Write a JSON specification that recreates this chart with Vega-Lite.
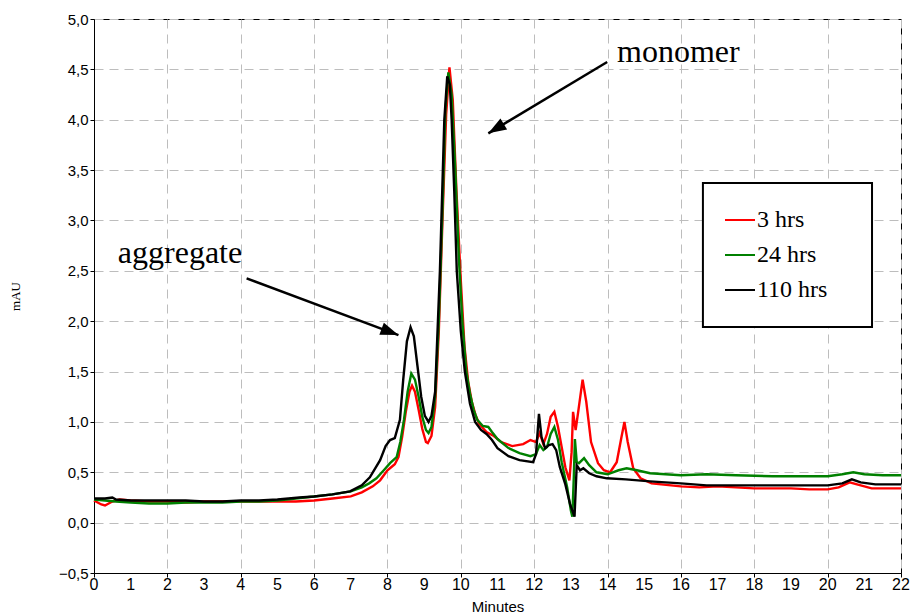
{
  "$schema": "https://vega.github.io/schema/vega-lite/v6.json",
  "width": 807,
  "height": 554,
  "autosize": {"type": "none"},
  "padding": {"left": 94, "top": 19, "right": 10, "bottom": 43},
  "background": "white",
  "config": {
    "view": {"stroke": "black", "strokeWidth": 1},
    "axis": {
      "grid": true,
      "gridColor": "#bdbdbd",
      "gridDash": [9, 6],
      "gridWidth": 1,
      "domainColor": "black",
      "tickColor": "black",
      "tickSize": 4,
      "labelColor": "black",
      "labelFont": "Liberation Sans",
      "labelFontSize": 15,
      "titleColor": "black",
      "titleFontWeight": "normal"
    }
  },
  "datasets": {
    "traces": [
      {"t": 0.0, "v": 0.22, "s": "3 hrs"}, {"t": 0.1, "v": 0.20, "s": "3 hrs"}, {"t": 0.2, "v": 0.18, "s": "3 hrs"}, {"t": 0.3, "v": 0.17, "s": "3 hrs"}, {"t": 0.4, "v": 0.19, "s": "3 hrs"}, {"t": 0.5, "v": 0.21, "s": "3 hrs"}, {"t": 0.7, "v": 0.23, "s": "3 hrs"}, {"t": 1.0, "v": 0.22, "s": "3 hrs"}, {"t": 1.5, "v": 0.21, "s": "3 hrs"}, {"t": 2.0, "v": 0.21, "s": "3 hrs"}, {"t": 2.5, "v": 0.20, "s": "3 hrs"}, {"t": 3.0, "v": 0.21, "s": "3 hrs"}, {"t": 3.5, "v": 0.21, "s": "3 hrs"}, {"t": 4.0, "v": 0.21, "s": "3 hrs"}, {"t": 4.5, "v": 0.21, "s": "3 hrs"}, {"t": 5.0, "v": 0.21, "s": "3 hrs"}, {"t": 5.5, "v": 0.21, "s": "3 hrs"}, {"t": 6.0, "v": 0.22, "s": "3 hrs"}, {"t": 6.5, "v": 0.24, "s": "3 hrs"}, {"t": 7.0, "v": 0.26, "s": "3 hrs"}, {"t": 7.3, "v": 0.30, "s": "3 hrs"}, {"t": 7.6, "v": 0.36, "s": "3 hrs"}, {"t": 7.8, "v": 0.42, "s": "3 hrs"}, {"t": 8.0, "v": 0.52, "s": "3 hrs"}, {"t": 8.1, "v": 0.55, "s": "3 hrs"}, {"t": 8.2, "v": 0.58, "s": "3 hrs"}, {"t": 8.3, "v": 0.65, "s": "3 hrs"}, {"t": 8.4, "v": 0.85, "s": "3 hrs"}, {"t": 8.5, "v": 1.10, "s": "3 hrs"}, {"t": 8.6, "v": 1.30, "s": "3 hrs"}, {"t": 8.67, "v": 1.36, "s": "3 hrs"}, {"t": 8.75, "v": 1.30, "s": "3 hrs"}, {"t": 8.85, "v": 1.12, "s": "3 hrs"}, {"t": 8.95, "v": 0.93, "s": "3 hrs"}, {"t": 9.05, "v": 0.80, "s": "3 hrs"}, {"t": 9.1, "v": 0.79, "s": "3 hrs"}, {"t": 9.2, "v": 0.86, "s": "3 hrs"}, {"t": 9.3, "v": 1.15, "s": "3 hrs"}, {"t": 9.4, "v": 1.90, "s": "3 hrs"}, {"t": 9.5, "v": 3.00, "s": "3 hrs"}, {"t": 9.6, "v": 4.05, "s": "3 hrs"}, {"t": 9.69, "v": 4.52, "s": "3 hrs"}, {"t": 9.78, "v": 4.20, "s": "3 hrs"}, {"t": 9.88, "v": 3.30, "s": "3 hrs"}, {"t": 10.0, "v": 2.40, "s": "3 hrs"}, {"t": 10.1, "v": 1.75, "s": "3 hrs"}, {"t": 10.2, "v": 1.40, "s": "3 hrs"}, {"t": 10.3, "v": 1.20, "s": "3 hrs"}, {"t": 10.4, "v": 1.07, "s": "3 hrs"}, {"t": 10.5, "v": 0.98, "s": "3 hrs"}, {"t": 10.7, "v": 0.90, "s": "3 hrs"}, {"t": 10.9, "v": 0.86, "s": "3 hrs"}, {"t": 11.1, "v": 0.80, "s": "3 hrs"}, {"t": 11.4, "v": 0.76, "s": "3 hrs"}, {"t": 11.7, "v": 0.78, "s": "3 hrs"}, {"t": 11.9, "v": 0.82, "s": "3 hrs"}, {"t": 12.05, "v": 0.80, "s": "3 hrs"}, {"t": 12.15, "v": 0.89, "s": "3 hrs"}, {"t": 12.25, "v": 0.78, "s": "3 hrs"}, {"t": 12.35, "v": 0.88, "s": "3 hrs"}, {"t": 12.45, "v": 1.05, "s": "3 hrs"}, {"t": 12.55, "v": 1.10, "s": "3 hrs"}, {"t": 12.65, "v": 0.95, "s": "3 hrs"}, {"t": 12.75, "v": 0.75, "s": "3 hrs"}, {"t": 12.85, "v": 0.55, "s": "3 hrs"}, {"t": 12.96, "v": 0.42, "s": "3 hrs"}, {"t": 13.02, "v": 0.70, "s": "3 hrs"}, {"t": 13.06, "v": 1.10, "s": "3 hrs"}, {"t": 13.13, "v": 0.92, "s": "3 hrs"}, {"t": 13.2, "v": 1.10, "s": "3 hrs"}, {"t": 13.32, "v": 1.42, "s": "3 hrs"}, {"t": 13.42, "v": 1.20, "s": "3 hrs"}, {"t": 13.55, "v": 0.80, "s": "3 hrs"}, {"t": 13.74, "v": 0.59, "s": "3 hrs"}, {"t": 13.9, "v": 0.52, "s": "3 hrs"}, {"t": 14.07, "v": 0.50, "s": "3 hrs"}, {"t": 14.25, "v": 0.60, "s": "3 hrs"}, {"t": 14.38, "v": 0.85, "s": "3 hrs"}, {"t": 14.46, "v": 1.00, "s": "3 hrs"}, {"t": 14.55, "v": 0.80, "s": "3 hrs"}, {"t": 14.7, "v": 0.54, "s": "3 hrs"}, {"t": 14.9, "v": 0.44, "s": "3 hrs"}, {"t": 15.2, "v": 0.39, "s": "3 hrs"}, {"t": 16.0, "v": 0.36, "s": "3 hrs"}, {"t": 16.5, "v": 0.35, "s": "3 hrs"}, {"t": 17.0, "v": 0.36, "s": "3 hrs"}, {"t": 17.5, "v": 0.35, "s": "3 hrs"}, {"t": 18.0, "v": 0.34, "s": "3 hrs"}, {"t": 18.5, "v": 0.34, "s": "3 hrs"}, {"t": 19.0, "v": 0.34, "s": "3 hrs"}, {"t": 19.5, "v": 0.33, "s": "3 hrs"}, {"t": 20.0, "v": 0.33, "s": "3 hrs"}, {"t": 20.3, "v": 0.35, "s": "3 hrs"}, {"t": 20.6, "v": 0.40, "s": "3 hrs"}, {"t": 20.8, "v": 0.38, "s": "3 hrs"}, {"t": 21.2, "v": 0.34, "s": "3 hrs"}, {"t": 21.6, "v": 0.34, "s": "3 hrs"}, {"t": 22.0, "v": 0.34, "s": "3 hrs"},

      {"t": 0.0, "v": 0.23, "s": "24 hrs"}, {"t": 0.3, "v": 0.22, "s": "24 hrs"}, {"t": 0.6, "v": 0.21, "s": "24 hrs"}, {"t": 1.0, "v": 0.20, "s": "24 hrs"}, {"t": 1.5, "v": 0.19, "s": "24 hrs"}, {"t": 2.0, "v": 0.19, "s": "24 hrs"}, {"t": 2.5, "v": 0.20, "s": "24 hrs"}, {"t": 3.0, "v": 0.20, "s": "24 hrs"}, {"t": 3.5, "v": 0.20, "s": "24 hrs"}, {"t": 4.0, "v": 0.21, "s": "24 hrs"}, {"t": 4.5, "v": 0.21, "s": "24 hrs"}, {"t": 5.0, "v": 0.22, "s": "24 hrs"}, {"t": 5.5, "v": 0.24, "s": "24 hrs"}, {"t": 6.0, "v": 0.26, "s": "24 hrs"}, {"t": 6.5, "v": 0.28, "s": "24 hrs"}, {"t": 7.0, "v": 0.31, "s": "24 hrs"}, {"t": 7.3, "v": 0.35, "s": "24 hrs"}, {"t": 7.5, "v": 0.39, "s": "24 hrs"}, {"t": 7.7, "v": 0.44, "s": "24 hrs"}, {"t": 7.9, "v": 0.52, "s": "24 hrs"}, {"t": 8.07, "v": 0.59, "s": "24 hrs"}, {"t": 8.25, "v": 0.65, "s": "24 hrs"}, {"t": 8.35, "v": 0.80, "s": "24 hrs"}, {"t": 8.45, "v": 1.02, "s": "24 hrs"}, {"t": 8.55, "v": 1.30, "s": "24 hrs"}, {"t": 8.65, "v": 1.48, "s": "24 hrs"}, {"t": 8.75, "v": 1.42, "s": "24 hrs"}, {"t": 8.85, "v": 1.25, "s": "24 hrs"}, {"t": 8.95, "v": 1.05, "s": "24 hrs"}, {"t": 9.05, "v": 0.92, "s": "24 hrs"}, {"t": 9.12, "v": 0.89, "s": "24 hrs"}, {"t": 9.2, "v": 0.95, "s": "24 hrs"}, {"t": 9.3, "v": 1.25, "s": "24 hrs"}, {"t": 9.4, "v": 2.00, "s": "24 hrs"}, {"t": 9.5, "v": 3.10, "s": "24 hrs"}, {"t": 9.58, "v": 4.10, "s": "24 hrs"}, {"t": 9.66, "v": 4.47, "s": "24 hrs"}, {"t": 9.75, "v": 4.25, "s": "24 hrs"}, {"t": 9.85, "v": 3.50, "s": "24 hrs"}, {"t": 9.95, "v": 2.60, "s": "24 hrs"}, {"t": 10.05, "v": 1.95, "s": "24 hrs"}, {"t": 10.15, "v": 1.50, "s": "24 hrs"}, {"t": 10.25, "v": 1.28, "s": "24 hrs"}, {"t": 10.35, "v": 1.12, "s": "24 hrs"}, {"t": 10.45, "v": 1.02, "s": "24 hrs"}, {"t": 10.6, "v": 0.96, "s": "24 hrs"}, {"t": 10.75, "v": 0.95, "s": "24 hrs"}, {"t": 10.85, "v": 0.90, "s": "24 hrs"}, {"t": 11.0, "v": 0.83, "s": "24 hrs"}, {"t": 11.3, "v": 0.74, "s": "24 hrs"}, {"t": 11.6, "v": 0.69, "s": "24 hrs"}, {"t": 11.9, "v": 0.66, "s": "24 hrs"}, {"t": 12.05, "v": 0.68, "s": "24 hrs"}, {"t": 12.15, "v": 0.77, "s": "24 hrs"}, {"t": 12.25, "v": 0.72, "s": "24 hrs"}, {"t": 12.35, "v": 0.75, "s": "24 hrs"}, {"t": 12.45, "v": 0.88, "s": "24 hrs"}, {"t": 12.55, "v": 0.95, "s": "24 hrs"}, {"t": 12.65, "v": 0.82, "s": "24 hrs"}, {"t": 12.75, "v": 0.60, "s": "24 hrs"}, {"t": 12.9, "v": 0.35, "s": "24 hrs"}, {"t": 13.0, "v": 0.12, "s": "24 hrs"}, {"t": 13.04, "v": 0.06, "s": "24 hrs"}, {"t": 13.08, "v": 0.45, "s": "24 hrs"}, {"t": 13.11, "v": 0.83, "s": "24 hrs"}, {"t": 13.16, "v": 0.60, "s": "24 hrs"}, {"t": 13.22, "v": 0.59, "s": "24 hrs"}, {"t": 13.36, "v": 0.64, "s": "24 hrs"}, {"t": 13.5, "v": 0.57, "s": "24 hrs"}, {"t": 13.7, "v": 0.50, "s": "24 hrs"}, {"t": 14.0, "v": 0.48, "s": "24 hrs"}, {"t": 14.3, "v": 0.52, "s": "24 hrs"}, {"t": 14.52, "v": 0.54, "s": "24 hrs"}, {"t": 14.8, "v": 0.52, "s": "24 hrs"}, {"t": 15.16, "v": 0.49, "s": "24 hrs"}, {"t": 16.0, "v": 0.47, "s": "24 hrs"}, {"t": 16.7, "v": 0.48, "s": "24 hrs"}, {"t": 17.5, "v": 0.47, "s": "24 hrs"}, {"t": 18.5, "v": 0.46, "s": "24 hrs"}, {"t": 19.43, "v": 0.46, "s": "24 hrs"}, {"t": 20.0, "v": 0.46, "s": "24 hrs"}, {"t": 20.4, "v": 0.48, "s": "24 hrs"}, {"t": 20.7, "v": 0.50, "s": "24 hrs"}, {"t": 21.0, "v": 0.48, "s": "24 hrs"}, {"t": 21.5, "v": 0.47, "s": "24 hrs"}, {"t": 22.0, "v": 0.47, "s": "24 hrs"},

      {"t": 0.0, "v": 0.24, "s": "110 hrs"}, {"t": 0.3, "v": 0.24, "s": "110 hrs"}, {"t": 0.5, "v": 0.25, "s": "110 hrs"}, {"t": 0.6, "v": 0.23, "s": "110 hrs"}, {"t": 1.0, "v": 0.22, "s": "110 hrs"}, {"t": 1.5, "v": 0.22, "s": "110 hrs"}, {"t": 2.0, "v": 0.22, "s": "110 hrs"}, {"t": 2.5, "v": 0.22, "s": "110 hrs"}, {"t": 3.0, "v": 0.21, "s": "110 hrs"}, {"t": 3.5, "v": 0.21, "s": "110 hrs"}, {"t": 4.0, "v": 0.22, "s": "110 hrs"}, {"t": 4.5, "v": 0.22, "s": "110 hrs"}, {"t": 5.0, "v": 0.23, "s": "110 hrs"}, {"t": 5.6, "v": 0.25, "s": "110 hrs"}, {"t": 6.0, "v": 0.26, "s": "110 hrs"}, {"t": 6.5, "v": 0.28, "s": "110 hrs"}, {"t": 6.98, "v": 0.31, "s": "110 hrs"}, {"t": 7.3, "v": 0.37, "s": "110 hrs"}, {"t": 7.52, "v": 0.45, "s": "110 hrs"}, {"t": 7.8, "v": 0.62, "s": "110 hrs"}, {"t": 7.95, "v": 0.76, "s": "110 hrs"}, {"t": 8.07, "v": 0.82, "s": "110 hrs"}, {"t": 8.2, "v": 0.84, "s": "110 hrs"}, {"t": 8.34, "v": 1.02, "s": "110 hrs"}, {"t": 8.43, "v": 1.42, "s": "110 hrs"}, {"t": 8.53, "v": 1.80, "s": "110 hrs"}, {"t": 8.63, "v": 1.94, "s": "110 hrs"}, {"t": 8.72, "v": 1.85, "s": "110 hrs"}, {"t": 8.82, "v": 1.55, "s": "110 hrs"}, {"t": 8.92, "v": 1.25, "s": "110 hrs"}, {"t": 9.02, "v": 1.06, "s": "110 hrs"}, {"t": 9.12, "v": 1.00, "s": "110 hrs"}, {"t": 9.2, "v": 1.06, "s": "110 hrs"}, {"t": 9.3, "v": 1.30, "s": "110 hrs"}, {"t": 9.43, "v": 2.50, "s": "110 hrs"}, {"t": 9.55, "v": 4.00, "s": "110 hrs"}, {"t": 9.63, "v": 4.43, "s": "110 hrs"}, {"t": 9.7, "v": 4.35, "s": "110 hrs"}, {"t": 9.75, "v": 4.00, "s": "110 hrs"}, {"t": 9.82, "v": 3.30, "s": "110 hrs"}, {"t": 9.89, "v": 2.50, "s": "110 hrs"}, {"t": 10.0, "v": 1.90, "s": "110 hrs"}, {"t": 10.11, "v": 1.50, "s": "110 hrs"}, {"t": 10.25, "v": 1.18, "s": "110 hrs"}, {"t": 10.39, "v": 1.00, "s": "110 hrs"}, {"t": 10.55, "v": 0.92, "s": "110 hrs"}, {"t": 10.7, "v": 0.88, "s": "110 hrs"}, {"t": 10.85, "v": 0.82, "s": "110 hrs"}, {"t": 11.0, "v": 0.74, "s": "110 hrs"}, {"t": 11.3, "v": 0.66, "s": "110 hrs"}, {"t": 11.6, "v": 0.62, "s": "110 hrs"}, {"t": 11.97, "v": 0.60, "s": "110 hrs"}, {"t": 12.05, "v": 0.68, "s": "110 hrs"}, {"t": 12.13, "v": 1.08, "s": "110 hrs"}, {"t": 12.2, "v": 0.85, "s": "110 hrs"}, {"t": 12.3, "v": 0.74, "s": "110 hrs"}, {"t": 12.4, "v": 0.77, "s": "110 hrs"}, {"t": 12.5, "v": 0.78, "s": "110 hrs"}, {"t": 12.6, "v": 0.72, "s": "110 hrs"}, {"t": 12.7, "v": 0.55, "s": "110 hrs"}, {"t": 12.85, "v": 0.38, "s": "110 hrs"}, {"t": 12.98, "v": 0.18, "s": "110 hrs"}, {"t": 13.1, "v": 0.06, "s": "110 hrs"}, {"t": 13.16, "v": 0.57, "s": "110 hrs"}, {"t": 13.25, "v": 0.52, "s": "110 hrs"}, {"t": 13.34, "v": 0.54, "s": "110 hrs"}, {"t": 13.5, "v": 0.49, "s": "110 hrs"}, {"t": 13.7, "v": 0.46, "s": "110 hrs"}, {"t": 13.98, "v": 0.44, "s": "110 hrs"}, {"t": 14.5, "v": 0.43, "s": "110 hrs"}, {"t": 15.16, "v": 0.41, "s": "110 hrs"}, {"t": 16.0, "v": 0.39, "s": "110 hrs"}, {"t": 16.7, "v": 0.37, "s": "110 hrs"}, {"t": 17.5, "v": 0.37, "s": "110 hrs"}, {"t": 18.5, "v": 0.37, "s": "110 hrs"}, {"t": 19.43, "v": 0.37, "s": "110 hrs"}, {"t": 20.0, "v": 0.37, "s": "110 hrs"}, {"t": 20.4, "v": 0.39, "s": "110 hrs"}, {"t": 20.66, "v": 0.43, "s": "110 hrs"}, {"t": 20.9, "v": 0.40, "s": "110 hrs"}, {"t": 21.3, "v": 0.38, "s": "110 hrs"}, {"t": 22.0, "v": 0.38, "s": "110 hrs"}
    ],
    "arrows": [
      {"t": 4.16, "v": 2.425, "t2": 8.30, "v2": 1.862, "a": 110.5},
      {"t": 13.99, "v": 4.573, "t2": 10.75, "v2": 3.865, "a": 239}
    ],
    "labels": [
      {"t": 0.65, "v": 2.58, "label": "aggregate"},
      {"t": 14.26, "v": 4.57, "label": "monomer"}
    ],
    "box": [
      {"t": 16.6, "t2": 21.21, "v": 3.371, "v2": 1.941}
    ],
    "xticks": [
      {"t": 0, "label": "0"}, {"t": 1, "label": "1"}, {"t": 2, "label": "2"}, {"t": 3, "label": "3"}, {"t": 4, "label": "4"}, {"t": 5, "label": "5"}, {"t": 6, "label": "6"}, {"t": 7, "label": "7"}, {"t": 8, "label": "8"}, {"t": 9, "label": "9"}, {"t": 10, "label": "10"}, {"t": 11, "label": "11"}, {"t": 12, "label": "12"}, {"t": 13, "label": "13"}, {"t": 14, "label": "14"}, {"t": 15, "label": "15"}, {"t": 16, "label": "16"}, {"t": 17, "label": "17"}, {"t": 18, "label": "18"}, {"t": 19, "label": "19"}, {"t": 20, "label": "20"}, {"t": 21, "label": "21"}, {"t": 22, "label": "22"}
    ]
  },
  "layer": [
    {
      "data": {"name": "traces"},
      "mark": {"type": "line", "strokeWidth": 2.4, "interpolate": "linear"},
      "encoding": {
        "x": {
          "field": "t", "type": "quantitative",
          "scale": {"domain": [0, 22], "nice": false, "zero": false},
          "axis": {
            "title": "Minutes",
            "values": [0,1,2,3,4,5,6,7,8,9,10,11,12,13,14,15,16,17,18,19,20,21,22],
            "labels": false,
            "titleFont": "Liberation Sans",
            "titleFontSize": 15,
            "titlePadding": 22
          }
        },
        "y": {
          "field": "v", "type": "quantitative",
          "scale": {"domain": [-0.5, 5], "nice": false, "zero": false},
          "axis": {
            "title": "mAU",
            "values": [-0.5,0,0.5,1,1.5,2,2.5,3,3.5,4,4.5,5],
            "labelExpr": "replace(format(datum.value, '.1f'), '.', ',')",
            "labelPadding": 2,
            "titleFont": "Liberation Serif",
            "titleFontSize": 13,
            "titleX": -79,
            "titleBaseline": "middle"
          }
        },
        "color": {
          "field": "s", "type": "nominal",
          "scale": {"domain": ["3 hrs", "24 hrs", "110 hrs"], "range": ["#ff0000", "#008000", "#000000"]},
          "sort": ["3 hrs", "24 hrs", "110 hrs"],
          "legend": {
            "title": null,
            "orient": "none",
            "legendX": 610,
            "legendY": 165,
            "padding": 20,
            "symbolType": "stroke",
            "symbolSize": 900,
            "symbolStrokeWidth": 2,
            "labelFont": "Liberation Serif",
            "labelFontSize": 24,
            "labelColor": "black",
            "labelOffset": 1,
            "rowPadding": 7,
            "labelLimit": 300
          }
        }
      }
    },
    {
      "data": {"name": "box"},
      "mark": {"type": "rect", "fill": "white", "stroke": "black", "strokeWidth": 2},
      "encoding": {
        "x": {"field": "t", "type": "quantitative", "title": "Minutes"},
        "x2": {"field": "t2"},
        "y": {"field": "v", "type": "quantitative", "title": "mAU"},
        "y2": {"field": "v2"}
      }
    },
    {
      "data": {"name": "arrows"},
      "mark": {"type": "rule", "color": "black", "strokeWidth": 2.5},
      "encoding": {
        "x": {"field": "t", "type": "quantitative", "title": "Minutes"},
        "y": {"field": "v", "type": "quantitative", "title": "mAU"},
        "x2": {"field": "t2"},
        "y2": {"field": "v2"}
      }
    },
    {
      "data": {"name": "arrows"},
      "mark": {"type": "point", "shape": "M0,0L-0.36,1L0.36,1Z", "filled": true, "color": "black", "opacity": 1, "size": 1296},
      "encoding": {
        "x": {"field": "t2", "type": "quantitative", "title": "Minutes"},
        "y": {"field": "v2", "type": "quantitative", "title": "mAU"},
        "angle": {"field": "a", "type": "quantitative", "scale": null}
      }
    },
    {
      "data": {"name": "labels"},
      "mark": {"type": "text", "font": "Liberation Serif", "fontSize": 32, "align": "left", "baseline": "alphabetic", "color": "black"},
      "encoding": {
        "x": {"field": "t", "type": "quantitative", "title": "Minutes"},
        "y": {"field": "v", "type": "quantitative", "title": "mAU"},
        "text": {"field": "label"}
      }
    },
    {
      "data": {"name": "xticks"},
      "mark": {"type": "text", "font": "Liberation Sans Narrow, Liberation Sans", "fontSize": 16, "align": "center", "baseline": "top", "dy": 4, "color": "black"},
      "encoding": {
        "x": {"field": "t", "type": "quantitative", "title": "Minutes"},
        "y": {"datum": -0.5, "type": "quantitative"},
        "text": {"field": "label"}
      }
    }
  ]
}
